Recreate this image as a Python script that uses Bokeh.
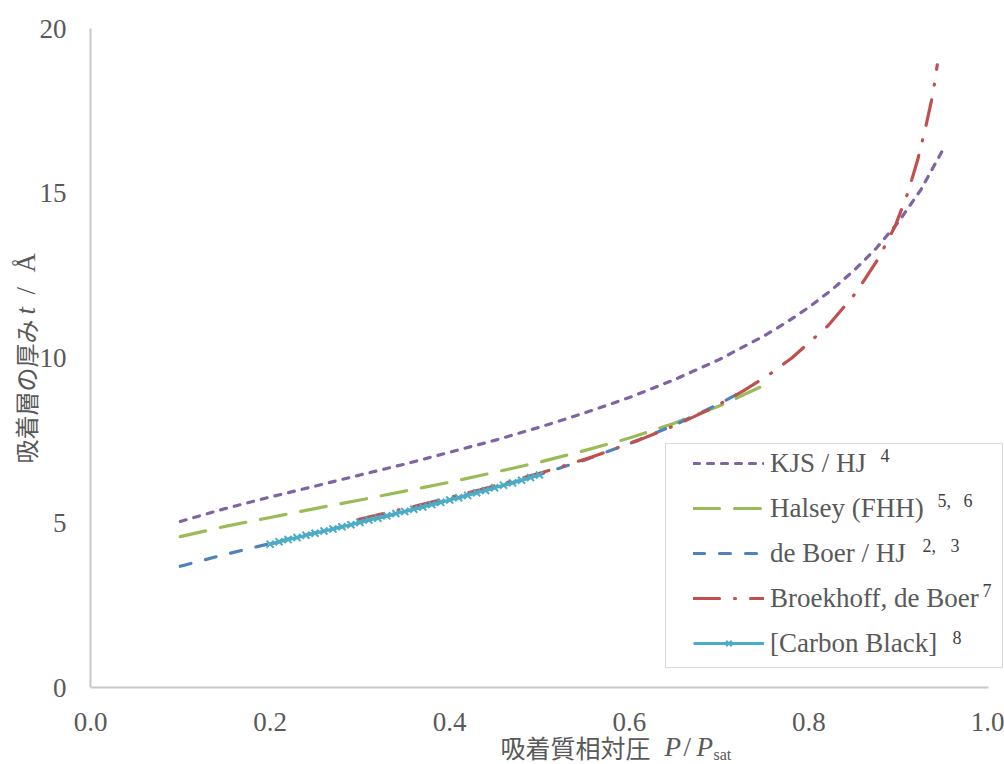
import math
from bokeh.plotting import figure
from bokeh.models import (Range1d, FixedTicker, PrintfTickFormatter, Label,
                          Legend, LegendItem, BoxAnnotation)
from bokeh.embed import file_html
from bokeh.resources import INLINE

# ---------------- data ----------------
kjs_p = [0.10, 0.15, 0.20, 0.25, 0.30, 0.35, 0.40, 0.45, 0.50, 0.55, 0.60,
         0.65, 0.70, 0.75, 0.775, 0.80, 0.825, 0.85, 0.875, 0.90, 0.925, 0.95]
kjs_t = [5.04, 5.43, 5.78, 6.11, 6.45, 6.78, 7.14, 7.50, 7.90, 8.33, 8.80,
         9.34, 9.95, 10.67, 11.08, 11.54, 12.06, 12.65, 13.33, 14.14, 15.12, 16.36]

halsey_p = [0.10, 0.15, 0.20, 0.25, 0.30, 0.35, 0.40, 0.45, 0.50, 0.55, 0.60,
            0.65, 0.70, 0.75]
halsey_t = [4.58, 4.89, 5.16, 5.43, 5.69, 5.96, 6.23, 6.53, 6.84, 7.19, 7.57,
            8.02, 8.54, 9.17]

deboer_p = [0.10, 0.15, 0.20, 0.25, 0.30, 0.35, 0.40, 0.45, 0.50, 0.55, 0.60,
            0.65, 0.70, 0.72]
deboer_t = [3.68, 4.04, 4.37, 4.69, 5.01, 5.34, 5.69, 6.06, 6.46, 6.90, 7.40,
            7.96, 8.61, 8.90]

broek_p = [0.298, 0.361, 0.434, 0.500, 0.559, 0.610, 0.655, 0.694, 0.727, 0.756,
           0.781, 0.822, 0.853, 0.877, 0.896, 0.910, 0.921, 0.930, 0.938, 0.943]
broek_t = [5.1, 5.5, 6.0, 6.5, 7.0, 7.5, 8.0, 8.5, 9.0, 9.5,
           10.0, 11.0, 12.0, 13.0, 14.0, 15.0, 16.0, 17.0, 18.0, 18.9]

cb_p = [0.20, 0.21, 0.22, 0.23, 0.24, 0.25, 0.26, 0.27, 0.28, 0.29, 0.30,
        0.31, 0.32, 0.33, 0.34, 0.35, 0.36, 0.37, 0.38, 0.39, 0.40,
        0.41, 0.42, 0.43, 0.44, 0.45, 0.46, 0.47, 0.48, 0.49, 0.50]
cb_t = [4.35, 4.42, 4.49, 4.55, 4.62, 4.68, 4.75, 4.81, 4.88, 4.94, 5.01,
        5.08, 5.14, 5.21, 5.28, 5.34, 5.41, 5.48, 5.55, 5.62, 5.69,
        5.76, 5.83, 5.91, 5.98, 6.06, 6.14, 6.21, 6.29, 6.37, 6.45]

series_names = ["KJS / HJ", "Halsey (FHH)", "de Boer / HJ",
                "Broekhoff, de Boer", "[Carbon Black]"]
# literature reference numbers shown as superscripts after each legend entry
series_refs = [["4"], ["5,", "6"], ["2,", "3"], ["7"], ["8"]]

x_ticks = [0.0, 0.2, 0.4, 0.6, 0.8, 1.0]
y_ticks = [0, 5, 10, 15, 20]

# ---------------- layout (canvas pixels) ----------------
W, H = 1004, 764
PX0, PX1 = 90, 988        # canvas x of x=0 and x=1
PY0, PY1 = 687, 28        # canvas y of y=0 and y=20
xs = (PX1 - PX0) / (x_ticks[-1] - x_ticks[0])
ys = (PY0 - PY1) / (y_ticks[-1] - y_ticks[0])
x_range = Range1d(x_ticks[0] - PX0 / xs, x_ticks[0] + (W - PX0) / xs)
y_range = Range1d(y_ticks[0] - (H - PY0) / ys, y_ticks[0] + PY0 / ys)

def fx(x):                # canvas x -> screen x (frame == canvas)
    return x
def fy(y):                # canvas y (from top) -> screen y (from bottom)
    return H - y

p = figure(width=W, height=H, output_backend="svg", toolbar_location=None,
           x_range=x_range, y_range=y_range, min_border=0)
p.outline_line_color = None
p.xgrid.visible = False
p.ygrid.visible = False
p.background_fill_color = "white"
p.border_fill_color = "white"

SERIF = "Liberation Serif"
GREY = "#595959"
for ax in (p.xaxis[0], p.yaxis[0]):
    ax.axis_line_color = "#C8C8C8"
    ax.axis_line_width = 2
    ax.major_tick_line_color = None
    ax.minor_tick_line_color = None
    ax.major_label_text_font = SERIF
    ax.major_label_text_font_size = "27px"
    ax.major_label_text_color = GREY
p.xaxis.fixed_location = y_ticks[0]
p.yaxis.fixed_location = x_ticks[0]
p.xaxis.bounds = (x_ticks[0], x_ticks[-1])
p.yaxis.bounds = (y_ticks[0], y_ticks[-1])
p.xaxis.ticker = FixedTicker(ticks=x_ticks)
p.xaxis.formatter = PrintfTickFormatter(format="%.1f")
p.yaxis.ticker = FixedTicker(ticks=y_ticks)
p.xaxis.major_label_standoff = 19
p.yaxis.major_label_standoff = 18

# ---------------- series ----------------
r_kjs = p.line(kjs_p, kjs_t, line_color="#8064A2", line_width=3.2,
               line_dash="6 8", line_cap="round")
r_hal = p.line(halsey_p, halsey_t, line_color="#9BBB59", line_width=3.2,
               line_dash="26 15", line_cap="round")
r_deb = p.line(deboer_p, deboer_t, line_color="#4F81BD", line_width=3.2,
               line_dash="11 15", line_cap="round")
r_bro = p.line(broek_p, broek_t, line_color="#C0504D", line_width=3.2,
               line_dash="26 15 1 15", line_cap="round")
r_cbl = p.line(cb_p, cb_t, line_color="#4BACC6", line_width=3.2)
r_cbm = p.scatter(cb_p, cb_t, marker="x", size=10, line_color="#4BACC6",
                  line_width=2)

# ---------------- legend ----------------
box = BoxAnnotation(left=fx(665), right=fx(1002), top=fy(443), bottom=fy(667),
                    left_units="screen", right_units="screen",
                    top_units="screen", bottom_units="screen",
                    fill_color="white", fill_alpha=1.0,
                    line_color="black", line_width=1, line_dash="1 1")
p.add_layout(box)

renderers = [[r_kjs], [r_hal], [r_deb], [r_bro], [r_cbl, r_cbm]]
legend = Legend(items=[LegendItem(label=n, renderers=r)
                       for n, r in zip(series_names, renderers)],
                location=(fx(693), fy(665.5)), orientation="vertical",
                glyph_width=71, glyph_height=20, label_height=45,
                spacing=0, padding=0, margin=0, label_standoff=6,
                label_text_font=SERIF, label_text_font_size="27px",
                label_text_color=GREY, label_text_baseline="middle",
                border_line_color=None, background_fill_alpha=0)
p.add_layout(legend, "center")

sup_pos = [[(880, 455)], [(937, 500), (963, 500)], [(922, 545), (950, 545)],
           [(982, 590)], [(952, 637)]]
for refs, poss in zip(series_refs, sup_pos):
    for ref, (sx, sy) in zip(refs, poss):
        p.add_layout(Label(x=fx(sx), y=fy(sy), x_units="screen", y_units="screen",
                           text=ref, text_font=SERIF, text_font_size="18px",
                           text_color="#404040", text_align="left",
                           text_baseline="middle"))

# ---------------- axis titles ----------------
CJK = "Noto Sans CJK JP"
def lab(text, x, y, font, size, style="normal", angle=0.0, baseline="middle"):
    p.add_layout(Label(x=fx(x), y=fy(y), x_units="screen", y_units="screen",
                       text=text, text_font=font, text_font_size=size,
                       text_font_style=style, text_color=GREY,
                       text_align="left", text_baseline=baseline, angle=angle))

# x title
lab("吸着質相対圧", 500, 746, CJK, "25px")
lab("P", 664, 746, SERIF, "27px", "italic")
lab("/", 683, 746, SERIF, "27px")
lab("P", 696, 746, SERIF, "27px", "italic")
lab("sat", 713, 754, SERIF, "16px")

# y title (rotated)
A = math.pi / 2
lab("吸着層の厚み", 25, 463, CJK, "24px", angle=A)
lab("t", 25, 314, SERIF, "27px", "italic", angle=A)
lab("/", 25, 294, SERIF, "27px", angle=A)
lab("Å", 25, 272, SERIF, "27px", angle=A)

open("out.html", "w").write(file_html(p, INLINE))
